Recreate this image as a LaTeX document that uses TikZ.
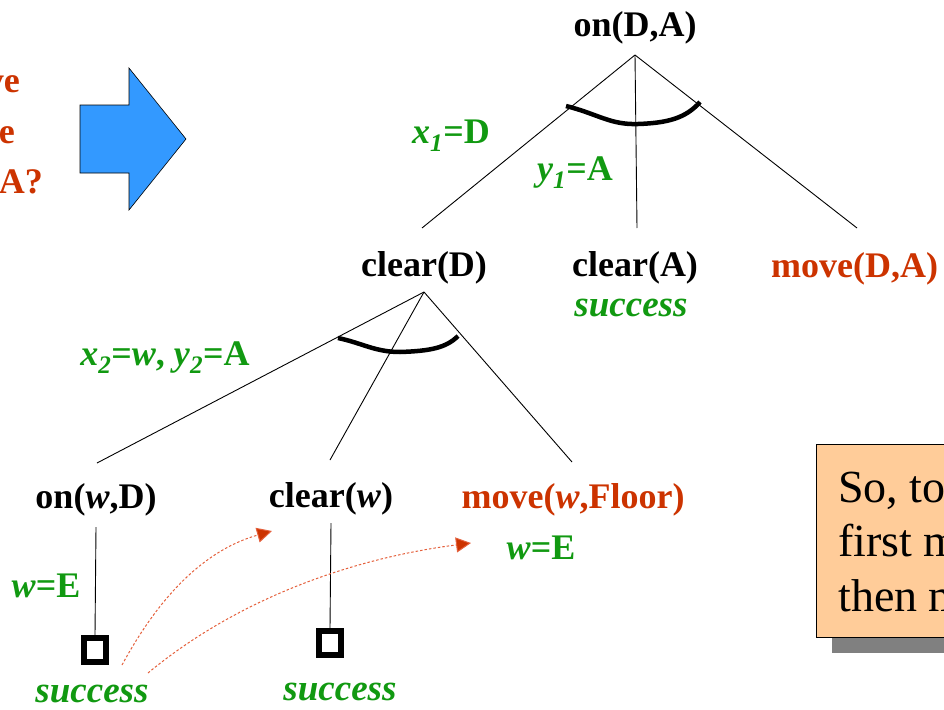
\documentclass[tikz,border=0pt]{standalone}
\usepackage{fontspec}
\setmainfont{Liberation Serif}
\usetikzlibrary{arrows.meta}
\definecolor{tgreen}{RGB}{17,153,17}
\definecolor{tred}{RGB}{204,51,0}
\definecolor{tdot}{RGB}{228,96,60}
\definecolor{tblue}{RGB}{51,153,255}
\definecolor{tbox}{RGB}{255,204,153}
\tikzset{
  goal/.style={anchor=base,inner sep=0pt,font=\fontsize{36}{40}\selectfont\bfseries},
  act/.style={goal,text=tred},
  lab/.style={anchor=base,inner sep=0pt,text=tgreen,font=\fontsize{36}{40}\selectfont\bfseries},
  succ/.style={anchor=base,inner sep=0pt,text=tgreen,font=\fontsize{37}{40}\selectfont\bfseries\itshape},
  edge/.style={draw=black,line width=0.9pt},
  andarc/.style={draw=black,line width=4.5pt},
  leaf/.style={draw=black,line width=6pt,minimum width=22pt,minimum height=24pt,inner sep=0pt},
  hint/.style={draw=tdot,line width=1pt,dash pattern=on 2.5pt off 2pt,-{Triangle[length=15pt,width=15pt,fill=tred]},shorten >=0pt},
  boxtxt/.style={anchor=base west,inner sep=0pt,font=\fontsize{46}{52}\selectfont}
}
\newcommand{\vv}[2]{\textit{#1}\textsubscript{\textit{#2}}}
\begin{document}
\begin{tikzpicture}[x=1pt,y=-1pt]
\useasboundingbox (0,0) rectangle (944,709);
% left cut-off question text
\node[act,anchor=base east] (q1) at (20,92) {ve};
\node[act,anchor=base east] (q2) at (15,143) {e};
\node[act,anchor=base east] (q3) at (43,193) {A?};
% blue arrow
\fill[tblue,draw=black,line width=0.6pt] (80,105) -- (129,105) -- (129,68) -- (186,139) -- (129,210) -- (129,173) -- (80,173) -- cycle;
% level 0
\node[goal] (onDA) at (635,37) {on(D,A)};
\coordinate (t1) at (635,55);
\coordinate (e11) at (422,228);
\coordinate (e12) at (637,228);
\coordinate (e13) at (857,228);
\draw[edge] (t1) -- (e11);
\draw[edge] (t1) -- (e12);
\draw[edge] (t1) -- (e13);
\draw[andarc] (566,106) .. controls (598,114) and (610,125) .. (638,124) .. controls (668,123) and (686,118) .. (700,102);
\node[lab] (x1) at (451,143) {\vv{x}{1}=D};
\node[lab] (y1) at (575,180) {\vv{y}{1}=A};
% level 1
\node[goal] (clearD) at (424,276) {clear(D)};
\node[goal] (clearA) at (635,276) {clear(A)};
\node[act,anchor=base west] (moveDA) at (771,277) {move(D,A)};
\node[succ] (sA) at (631,316) {success};
\coordinate (t2) at (424,292);
\coordinate (e21) at (97,463);
\coordinate (e22) at (330,460);
\coordinate (e23) at (572,462);
\draw[edge] (t2) -- (e21);
\draw[edge] (t2) -- (e22);
\draw[edge] (t2) -- (e23);
\draw[andarc] (338,338) .. controls (362,343) and (375,352) .. (400,352) .. controls (430,351) and (446,348) .. (458,336);
\node[lab] (x2) at (165,365) {\vv{x}{2}=\textit{w}, \vv{y}{2}=A};
% level 2
\node[goal] (onwD) at (96,508) {on(\textit{w},D)};
\node[goal] (clearw) at (331,507) {clear(\textit{w})};
\node[act] (movew) at (573,508) {move(\textit{w},Floor)};
\node[lab] (wE2) at (541,559) {\textit{w}=E};
\node[lab] (wE1) at (46,597) {\textit{w}=E};
\node[leaf] (sq1) at (95,650) {};
\node[leaf] (sq2) at (330,643) {};
\coordinate (v1) at (96,527);
\coordinate (v2) at (331,523);
\draw[edge] (v1) -- (sq1.north);
\draw[edge] (v2) -- (sq2.north);
\node[succ] (s1) at (92,702) {success};
\node[succ] (s2) at (340,700) {success};
% dotted hint arrows
\coordinate (h1s) at (122,665);
\coordinate (h1e) at (272,531);
\coordinate (h2s) at (148,673);
\coordinate (h2e) at (471,543);
\draw[hint] (h1s) .. controls (160,595) and (205,550) .. (h1e);
\draw[hint] (h2s) .. controls (230,605) and (340,560) .. (h2e);
% note box
\fill[black!50] (832,460) rectangle (960,653);
\draw[fill=tbox,line width=0.8pt] (816,444) rectangle (960,637);
\node[boxtxt] (b1) at (838,502) {So, to};
\node[boxtxt] (b2) at (838,556) {first m};
\node[boxtxt] (b3) at (838,611) {then m};
\end{tikzpicture}
\end{document}
